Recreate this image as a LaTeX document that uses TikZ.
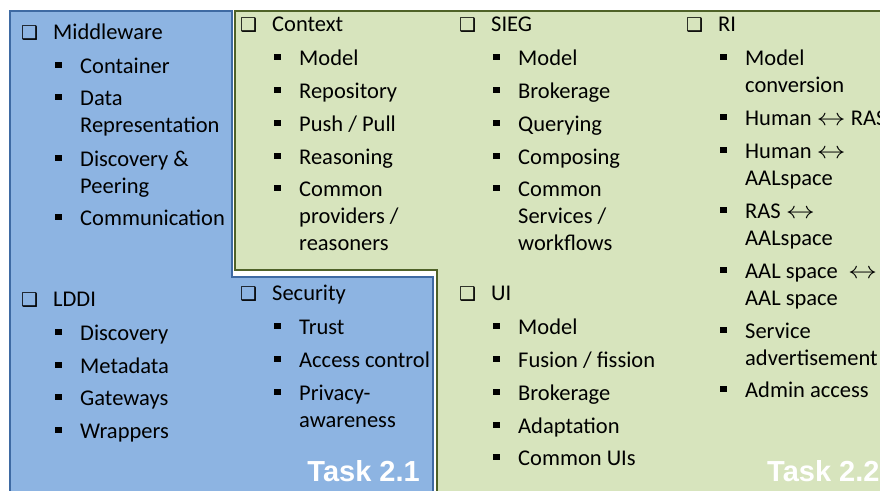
\documentclass[tikz,border=0pt]{standalone}
\usepackage{fontspec}
\usepackage{graphicx}
\setmainfont{Carlito}
\newfontfamily\symfont{DejaVu Sans}
\newfontfamily\taskfont{Liberation Sans}

\definecolor{wpblue}{HTML}{8DB4E2}
\definecolor{wpblueline}{HTML}{3E6AA3}
\definecolor{wpgreen}{HTML}{D7E4BD}
\definecolor{wpgreenline}{HTML}{4F6228}

% list marks hang to the left of the text
\newcommand{\chk}{\llap{\makebox[32pt][l]{\symfont\fontsize{19}{19}\selectfont ❑}}}
\newcommand{\blt}{\llap{\makebox[25pt][l]{\raisebox{5pt}{\rule{6.5pt}{6.5pt}}}}}
\newcommand{\lra}{\scalebox{1.4}[1.15]{$\leftrightarrow$}}

\begin{document}
\begin{tikzpicture}[
  x=1pt, y=-1pt,
  entry/.style={anchor=base west,align=left,inner sep=0pt,font=\fontsize{22.5}{27}\selectfont},
  task/.style={inner sep=0pt,text=white,font=\taskfont\bfseries\fontsize{29}{29}\selectfont}
]
  \useasboundingbox (0,0) rectangle (880,490);

  % work package areas
  \draw[wpblueline,line width=1.5pt,fill=wpblue]
    (10,11) -- (232,11) -- (232,277) -- (433,277) -- (433,500) -- (10,500) -- cycle;
  \draw[wpgreenline,line width=2pt,fill=wpgreen]
    (235,11) -- (895,11) -- (895,500) -- (437,500) -- (437,270) -- (235,270) -- cycle;

  % the base of a wrapped entry is its last line
  % middleware
  \node[entry] (mw) at (53,39) {\chk Middleware};
  \node[entry] (mw1) at (80,73) {\blt Container};
  \node[entry] (mw2) at (80,132) {\blt Data\\Representation};
  \node[entry] (mw3) at (80,193) {\blt Discovery \&\\Peering};
  \node[entry] (mw4) at (80,225) {\blt Communication};

  % lddi
  \node[entry] (ld) at (53,306) {\chk LDDI};
  \node[entry] (ld1) at (80,340) {\blt Discovery};
  \node[entry] (ld2) at (80,373) {\blt Metadata};
  \node[entry] (ld3) at (80,405) {\blt Gateways};
  \node[entry] (ld4) at (80,438) {\blt Wrappers};

  % context
  \node[entry] (cx) at (272,31) {\chk Context};
  \node[entry] (cx1) at (299,65) {\blt Model};
  \node[entry] (cx2) at (299,98) {\blt Repository};
  \node[entry] (cx3) at (299,131) {\blt Push / Pull};
  \node[entry] (cx4) at (299,164) {\blt Reasoning};
  \node[entry] (cx5) at (299,250) {\blt Common\\providers /\\reasoners};

  % security
  \node[entry] (sc) at (272,300) {\chk Security};
  \node[entry] (sc1) at (299,334) {\blt Trust};
  \node[entry] (sc2) at (299,367) {\blt Access control};
  \node[entry] (sc3) at (299,427) {\blt Privacy-\\awareness};

  % sieg
  \node[entry] (sg) at (491,31) {\chk SIEG};
  \node[entry] (sg1) at (518,65) {\blt Model};
  \node[entry] (sg2) at (518,98) {\blt Brokerage};
  \node[entry] (sg3) at (518,131) {\blt Querying};
  \node[entry] (sg4) at (518,164) {\blt Composing};
  \node[entry] (sg5) at (518,250) {\blt Common\\Services /\\workflows};

  % ui
  \node[entry] (ui) at (491,300) {\chk UI};
  \node[entry] (ui1) at (518,334) {\blt Model};
  \node[entry] (ui2) at (518,367) {\blt Fusion / fission};
  \node[entry] (ui3) at (518,400) {\blt Brokerage};
  \node[entry] (ui4) at (518,433) {\blt Adaptation};
  \node[entry] (ui5) at (518,465) {\blt Common UIs};

  % ri
  \node[entry] (ri) at (718,31) {\chk RI};
  \node[entry] (ri1) at (745,92) {\blt Model\\conversion};
  \node[entry] (ri2) at (745,125) {\blt Human \lra{} RAS};
  \node[entry] (ri3) at (745,185) {\blt Human \lra\\AALspace};
  \node[entry] (ri4) at (745,245) {\blt RAS \lra\\AALspace};
  \node[entry] (ri5) at (745,305) {\blt AAL space \ \lra\\AAL space};
  \node[entry] (ri6) at (745,365) {\blt Service\\advertisement};
  \node[entry] (ri7) at (745,397) {\blt Admin access};

  \node[task,anchor=base east] (t21) at (420,481) {Task 2.1};
  \node[task,anchor=base west] (t22) at (767,481) {Task 2.2};
\end{tikzpicture}
\end{document}
